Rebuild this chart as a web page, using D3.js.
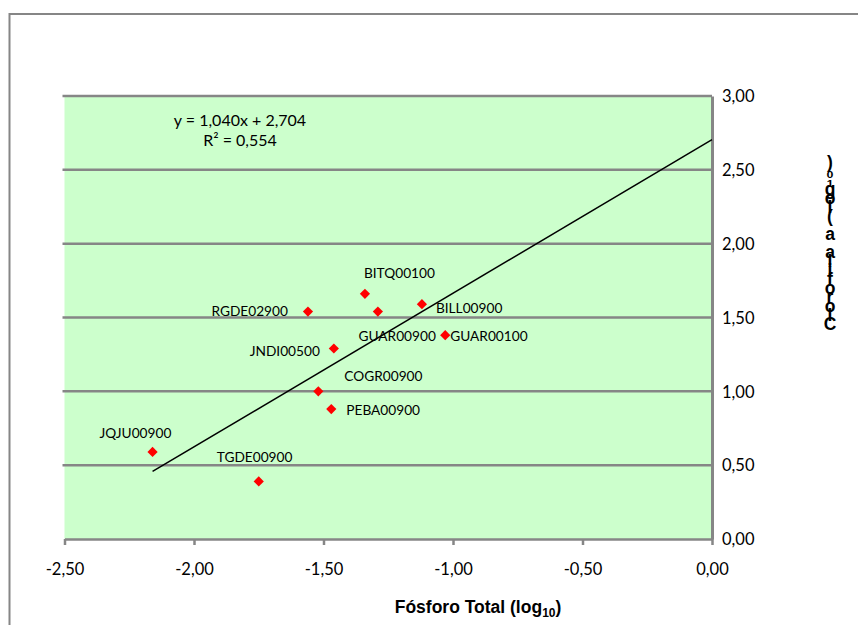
<!DOCTYPE html>
<html>
<head>
<meta charset="utf-8">
<script src="https://cdn.jsdelivr.net/npm/d3@7"></script>
<style>
  body { margin: 0; background: #fff; }
</style>
</head>
<body>
<div id="chart"></div>
<script>
// data
var stations = ["JQJU00900", "TGDE00900", "PEBA00900", "COGR00900", "JNDI00500",
                "RGDE02900", "BITQ00100", "GUAR00900", "BILL00900", "GUAR00100"];
var fosforo = [-2.16, -1.75, -1.47, -1.52, -1.46, -1.56, -1.34, -1.29, -1.12, -1.03];
var clorofila = [0.59, 0.39, 0.88, 1.00, 1.29, 1.54, 1.66, 1.54, 1.59, 1.38];
var xTicks = [-2.5, -2.0, -1.5, -1.0, -0.5, 0.0];
var yTicks = [0.0, 0.5, 1.0, 1.5, 2.0, 2.5, 3.0];
var slope = 1.040;
var intercept = 2.704;
var equationLines = ["y = 1,040x + 2,704", "R² = 0,554"];
var yTitle = "Clorofila a (log₁₀)";

// where each station label sits relative to its point: [dx, dy, anchor]
var labelOffsets = {
    "BITQ00100": [-1, -16, "start"],
    "RGDE02900": [-20, 4, "end"],
    "BILL00900": [14, 9, "start"],
    "GUAR00900": [58, 29, "end"],
    "GUAR00100": [5, 6, "start"],
    "JNDI00500": [-14, 7, "end"],
    "COGR00900": [26, -10, "start"],
    "PEBA00900": [15, 6, "start"],
    "JQJU00900": [-53, -14, "start"],
    "TGDE00900": [-42, -19, "start"]
};

var width = 858;
var height = 625;
var labelFont = "Lato, Carlito, Calibri, sans-serif";
var titleFont = "'Liberation Sans', Arial, sans-serif";
var gridColor = "#868686";

var fmt = function(d){ return d.toFixed(2).replace(".", ","); };

var svg = d3.select("#chart").append("svg")
    .attr("width", width)
    .attr("height", height);

// outer chart border (only top and left are inside the frame)
svg.append("path")
    .attr("d", "M9.5,625 L9.5,14 L858,14")
    .attr("fill", "none")
    .attr("stroke", gridColor)
    .attr("stroke-width", 2);

var x = d3.scaleLinear().domain([-2.5, 0]).range([64.5, 712]);
var y = d3.scaleLinear().domain([0, 3]).range([539, 96]);

// plot area
svg.append("rect")
    .attr("x", x(-2.5))
    .attr("y", y(3))
    .attr("width", x(0) - x(-2.5))
    .attr("height", y(0) - y(3))
    .attr("fill", "#CCFFCC");

// horizontal gridlines
svg.append("g").selectAll("line")
    .data(yTicks.filter(function(d){ return d > 0; }))
    .enter()
    .append("line")
    .attr("x1", x(-2.5) - 2)
    .attr("x2", x(0))
    .attr("y1", function(d){ return y(d); })
    .attr("y2", function(d){ return y(d); })
    .attr("stroke", gridColor)
    .attr("stroke-width", 2.5);

// x axis
var xAxis = svg.append("g")
    .attr("transform", "translate(0," + y(0) + ")")
    .call(d3.axisBottom(x).tickValues(xTicks).tickSize(6).tickSizeOuter(0).tickFormat(fmt));
xAxis.select(".domain").attr("stroke", gridColor).attr("stroke-width", 2.5);
xAxis.selectAll(".tick line").attr("stroke", gridColor).attr("stroke-width", 2.5);
xAxis.selectAll(".tick text")
    .attr("y", 36)
    .attr("dy", null)
    .style("font-family", labelFont)
    .style("font-size", "16.5px")
    .style("fill", "#000");

// right y axis
var yAxis = svg.append("g")
    .attr("transform", "translate(" + x(0) + ",0)")
    .call(d3.axisRight(y).tickValues(yTicks).tickSize(0).tickPadding(10).tickFormat(fmt));
yAxis.select(".domain").attr("stroke", gridColor).attr("stroke-width", 3);
yAxis.selectAll(".tick text")
    .attr("dy", "0.35em")
    .style("font-family", labelFont)
    .style("font-size", "16.5px")
    .style("fill", "#000");

// trend line
var x0 = d3.min(fosforo);
var x1 = 0;
svg.append("line")
    .attr("x1", x(x0))
    .attr("y1", y(slope * x0 + intercept))
    .attr("x2", x(x1))
    .attr("y2", y(slope * x1 + intercept))
    .attr("stroke", "#000")
    .attr("stroke-width", 1.5);

// points
var diamond = d3.symbol().type(d3.symbolSquare).size(52);
svg.append("g").selectAll("path")
    .data(stations)
    .enter()
    .append("path")
    .attr("d", diamond)
    .attr("transform", function(d, i){
        return "translate(" + x(fosforo[i]) + "," + y(clorofila[i]) + ") rotate(45)";
    })
    .attr("fill", "#FF0000");

// station labels
svg.append("g").selectAll("text")
    .data(stations)
    .enter()
    .append("text")
    .attr("x", function(d, i){ return x(fosforo[i]) + labelOffsets[d][0]; })
    .attr("y", function(d, i){ return y(clorofila[i]) + labelOffsets[d][1]; })
    .attr("text-anchor", function(d){ return labelOffsets[d][2]; })
    .text(function(d){ return d; })
    .style("font-family", labelFont)
    .style("font-size", "13.7px")
    .style("fill", "#000");

// trendline equation
svg.append("g").selectAll("text")
    .data(equationLines)
    .enter()
    .append("text")
    .attr("x", 240)
    .attr("y", function(d, i){ return 126 + i * 20; })
    .attr("text-anchor", "middle")
    .text(function(d){ return d; })
    .style("font-family", labelFont)
    .style("font-size", "16px")
    .style("fill", "#000");

// x axis title
var xTitle = svg.append("text")
    .attr("x", 478)
    .attr("y", 613)
    .attr("text-anchor", "middle")
    .style("font-family", titleFont)
    .style("font-weight", "bold")
    .style("font-size", "17.5px")
    .style("fill", "#000");
xTitle.append("tspan").text("Fósforo Total (log");
xTitle.append("tspan").attr("dy", 4).style("font-size", "12px").text("10");
xTitle.append("tspan").attr("dy", -4).text(")");

// y axis title: squeezed upright column, last character on top like the original
svg.append("text")
    .attr("x", 830)
    .attr("y", 152)
    .style("writing-mode", "vertical-rl")
    .style("text-orientation", "upright")
    .style("letter-spacing", "-11px")
    .style("font-family", titleFont)
    .style("font-weight", "bold")
    .style("font-size", "17.5px")
    .style("fill", "#000")
    .text(Array.from(yTitle).reverse().join(""));
</script>
</body>
</html>
